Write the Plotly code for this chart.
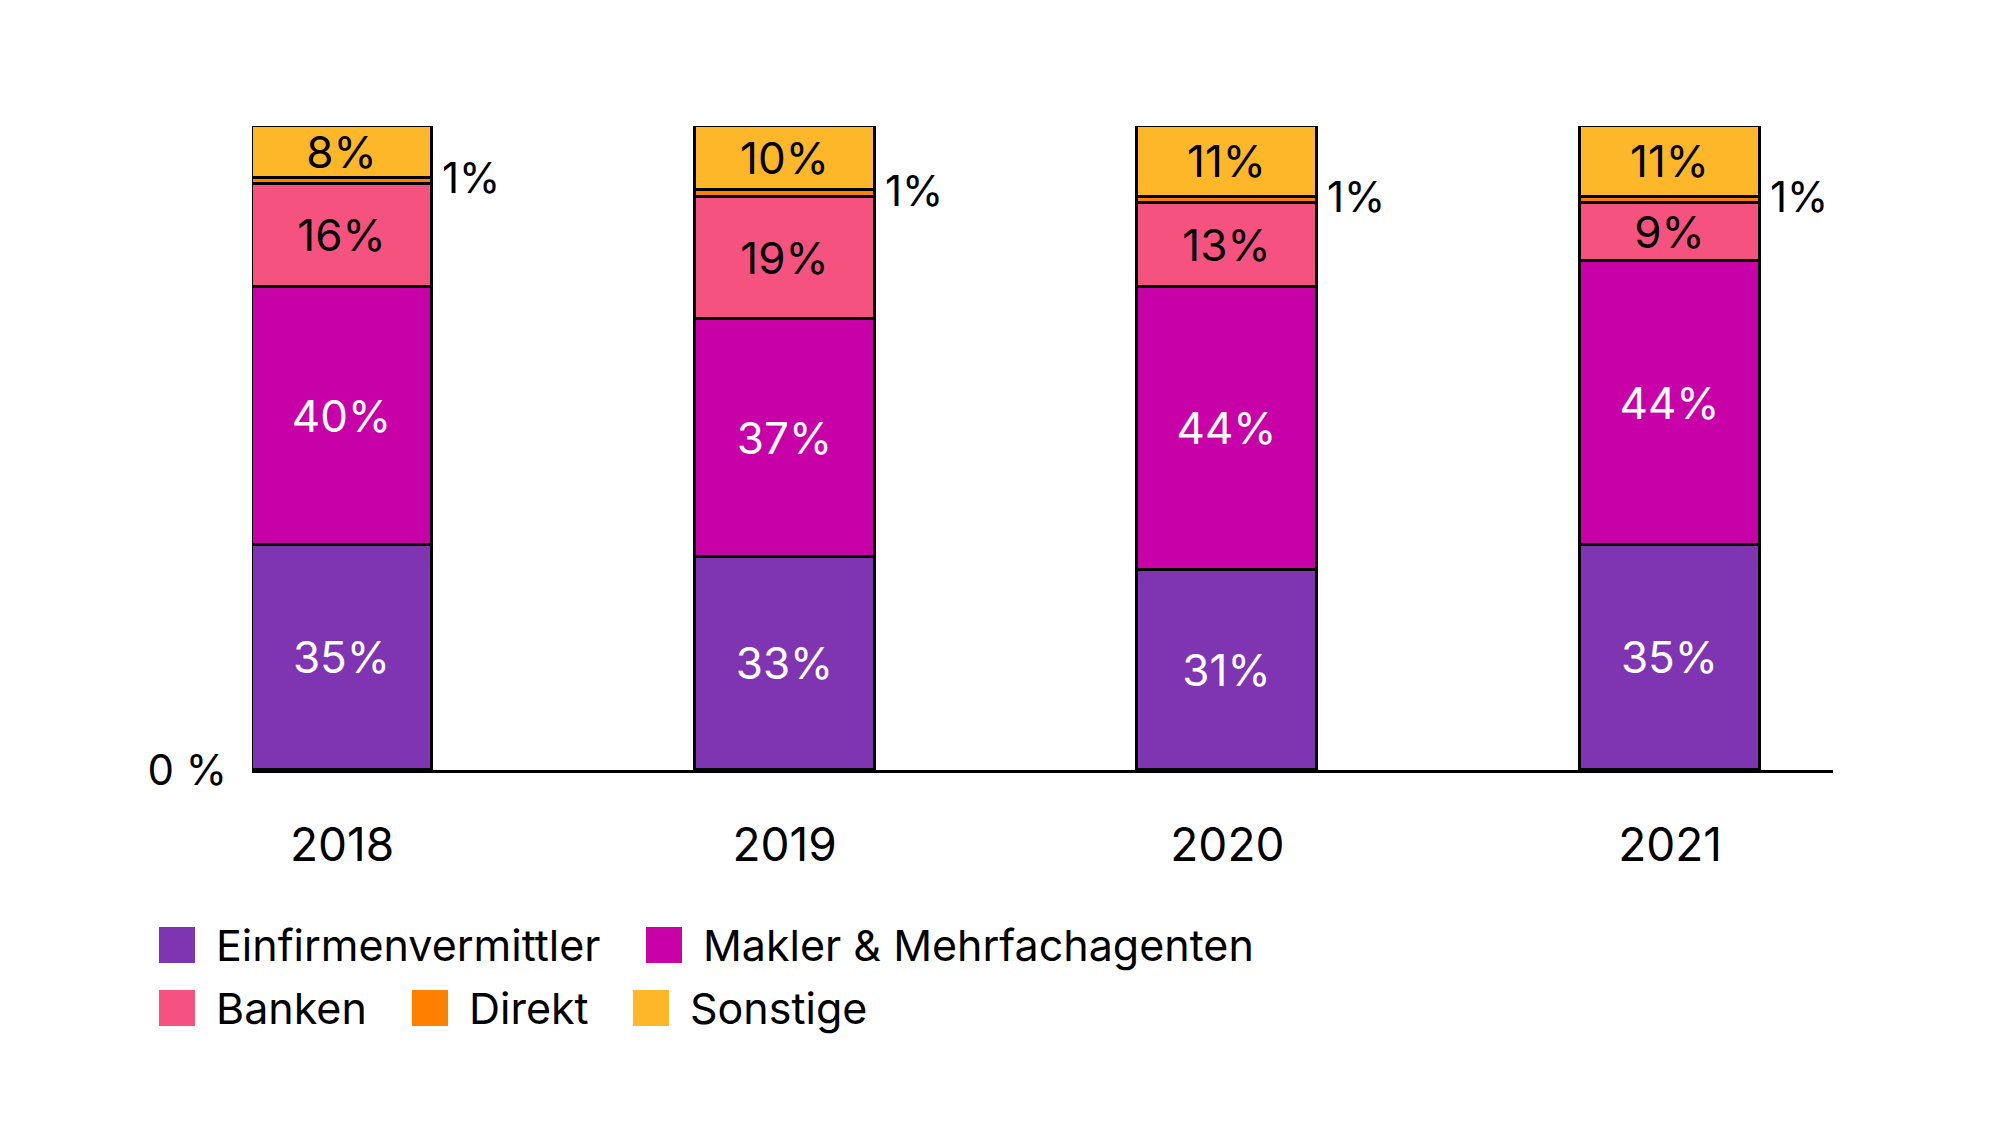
import plotly.graph_objects as go

years = ["2018", "2019", "2020", "2021"]
series_names = ["Einfirmenvermittler", "Makler & Mehrfachagenten", "Banken", "Direkt", "Sonstige"]
einfirmen = [35, 33, 31, 35]
makler = [40, 37, 44, 44]
banken = [16, 19, 13, 9]
direkt = [1, 1, 1, 1]
sonstige = [8, 10, 11, 11]

colors = ["#7F35B2", "#C800A8", "#F65280", "#FF7F00", "#FFB72A"]
text_colors = ["white", "white", "black", "black", "black"]
values = [einfirmen, makler, banken, direkt, sonstige]

FONT = "Inter"
OFF = 8  # default page body margin
W, H = 2000 - OFF, 1125 - OFF
L, R, T, B = 252 - OFF, 167, 126 - OFF, 355
PW, PH = W - L - R, H - T - B

def px(xp):
    return (xp - OFF - L) / PW

def py(yp):
    return (H - B - (yp - OFF)) / PH

fig = go.Figure()
for i, (name, vals) in enumerate(zip(series_names, values)):
    show_text = name != "Direkt"
    fig.add_trace(go.Bar(
        x=years, y=vals, name=name,
        marker=dict(color=colors[i], line=dict(color="black", width=3)),
        text=[f"{v}%" for v in vals] if show_text else None,
        textposition="inside" if show_text else "none",
        insidetextanchor="middle",
        constraintext="none",
        textfont=dict(family=FONT, size=44, color=text_colors[i]),
        width=0.4066,
        showlegend=False,
    ))

# 1% labels for Direkt, outside to the right
for j, yr in enumerate(years):
    cum = einfirmen[j] + makler[j] + banken[j] + direkt[j]
    fig.add_annotation(x=j, y=cum, text=f"{direkt[j]}%", showarrow=False,
                       xanchor="left", yanchor="middle", xshift=98,
                       font=dict(family=FONT, size=42, color="black"))

# Custom legend
legend_items = [
    (0, 159, 945, 214),
    (1, 646, 945, 701),
    (2, 159, 1008, 214),
    (3, 412, 1008, 467),
    (4, 633, 1008, 688),
]
for idx, sx, cy, tx in legend_items:
    fig.add_shape(type="rect", xref="paper", yref="paper",
                  x0=px(sx), x1=px(sx + 36), y0=py(cy + 18), y1=py(cy - 18),
                  fillcolor=colors[idx], line=dict(width=0))
    fig.add_annotation(xref="paper", yref="paper", x=px(tx), y=py(cy),
                       text=series_names[idx], showarrow=False,
                       xanchor="left", yanchor="middle",
                       font=dict(family=FONT, size=43, color="black"))

fig.update_layout(
    barmode="stack",
    width=W, height=H,
    margin=dict(l=L, r=R, t=T, b=B),
    plot_bgcolor="white", paper_bgcolor="white",
    font=dict(family=FONT, color="black"),
    bargap=0,
)
fig.update_xaxes(
    type="category", range=[-0.2033, 3.368],
    showline=True, linecolor="black", linewidth=3,
    showgrid=False, zeroline=False, ticks="",
    ticklabelstandoff=33,
    tickfont=dict(family=FONT, size=46, color="black"),
)
fig.update_yaxes(
    range=[0, 100], tickvals=[0], ticktext=["0 %"],
    showgrid=False, zeroline=False, showline=False, ticks="",
    ticklabelstandoff=24,
    tickfont=dict(family=FONT, size=42, color="black"),
)

fig.write_html("out.html")
